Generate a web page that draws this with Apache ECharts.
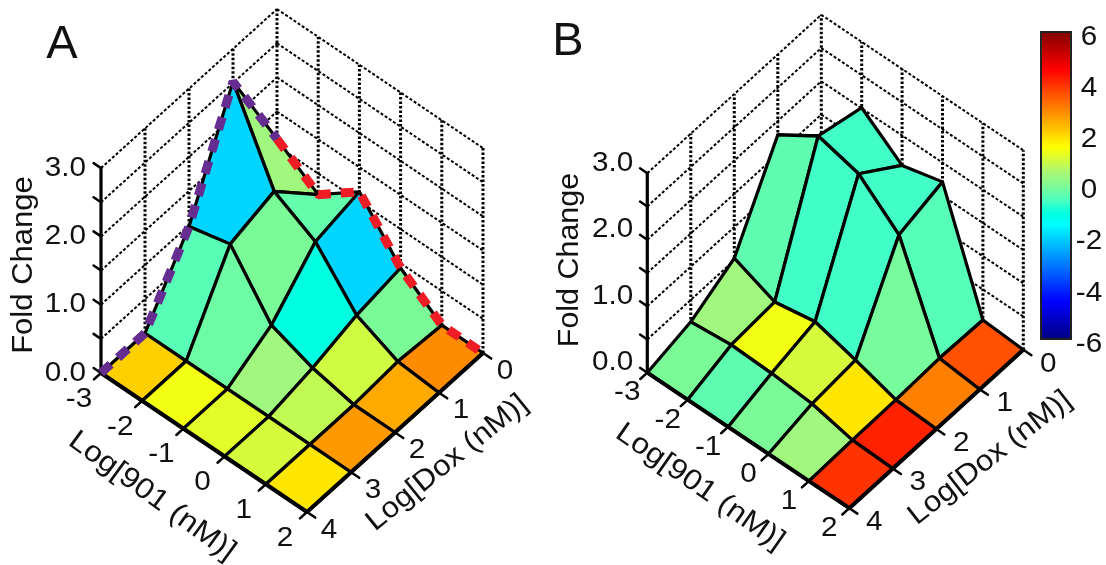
<!DOCTYPE html>
<html><head><meta charset="utf-8">
<style>html,body{margin:0;padding:0;background:#fff}#c{width:1106px;height:565px}</style>
<script src="https://cdn.jsdelivr.net/npm/echarts@6/dist/echarts.min.js"></script>
</head><body><div id="c"></div>
<script>
// ---- axis ticks ----
const drugTicks = [-3, -2, -1, 0, 1, 2];
const doxTicks = [0, 1, 2, 3, 4];
const foldTicks = [0, 0.5, 1, 1.5, 2, 2.5, 3];
const foldLabels = [0, 1, 2, 3];
const colorTicks = [-6, -4, -2, 0, 2, 4, 6];

// ---- fold change at the mesh nodes: one row per Dox tick, one column per 901 tick ----
const heightA = [
  [1.10, 0.69, 1.14, 0.43, 0.00, 0.00],
  [2.52, 1.32, 0.99, 0.32, 0.05, 0.00],
  [0.98, 1.13, 0.35, 0.13, 0.00, 0.00],
  [0.00, 0.00, 0.00, 0.00, 0.00, 0.00],
  [0.00, 0.00, 0.00, 0.00, 0.00, 0.00]
];
const heightB = [
  [1.18, 2.01, 1.55, 1.71, 0.04, 0.00],
  [1.79, 2.18, 2.02, 1.51, 0.06, 0.00],
  [0.53, 0.28, 0.39, 0.22, 0.03, 0.00],
  [0.17, 0.23, 0.21, 0.16, 0.02, 0.00],
  [0.00, 0.00, 0.00, 0.00, 0.00, 0.00]
];
// ---- colour value of each mesh cell: one row per Dox band, one column per 901 band ----
const cellA = [
  [0.40, -0.30, -2.00, -0.05, 2.85],
  [-2.00, -0.05, -1.10, 0.95, 2.50],
  [-0.42, -0.20, 0.40, 0.80, 2.70],
  [2.05, 1.35, 1.15, 1.00, 1.80]
];
const cellB = [
  [-0.65, -0.65, -0.65, -0.45, 3.55],
  [-0.35, -0.65, -0.65, -0.10, 3.00],
  [0.40, 1.35, 1.00, 1.80, 4.10],
  [-0.05, -0.35, -0.05, 0.40, 3.90]
];
// ---- colour scale ----
const scaleValues = [-6, -4.5, -1.5, -1.1, -0.6, 0, 0.5, 1.5, 4.5, 6];
const scaleColors = ['#00007f', '#0000ff', '#00ffff', '#00ffe0', '#48ffc4', '#80fa94', '#a8f878', '#ffff00', '#ff0000', '#7f0000'];

const FONT = '"Liberation Sans", Arial, sans-serif';
const hex = c => [1, 3, 5].map(k => parseInt(c.substr(k, 2), 16));
function colorOf(v) {
  for (let k = 0; k < scaleValues.length - 1; k++) {
    if (v <= scaleValues[k + 1]) {
      const t = (v - scaleValues[k]) / (scaleValues[k + 1] - scaleValues[k]);
      const a = hex(scaleColors[k]), b = hex(scaleColors[k + 1]);
      return 'rgb(' + a.map((x, n) => Math.round(x + (b[n] - x) * t)).join(',') + ')';
    }
  }
  return scaleColors[scaleColors.length - 1];
}

// panels: an axonometric view, drawn on a hidden value-axis grid
const panels = [
  { ox: 101, oy: 373, ix: 41.2, iy: 27.8, dx: 44, dy: 39.75, zs: 68.3, height: heightA, cell: cellA,
    zOff: [-15, 0], drugOff: [-22, 26], doxOff: [22, 18], paths: true },
  { ox: 647.3, oy: 372.7, ix: 40.4, iy: 27.1, dx: 43.5, dy: 39.6, zs: 66.5, height: heightB, cell: cellB,
    zOff: [-14, -10], drugOff: [-20, 20], doxOff: [25, 14], paths: false }
];
const series = [], grids = [], xAxes = [], yAxes = [];
const off = { type: 'value', show: false, scale: false };

panels.forEach((p, g) => {
  const project = (drug, dox, z) => [(drug + 3) * p.ix + (4 - dox) * p.dx, -(drug + 3) * p.iy + (4 - dox) * p.dy + z * p.zs];
  const xMax = 5 * p.ix + 4 * p.dx, yMin = -5 * p.iy, yMax = 4 * p.dy + 3 * p.zs;
  grids.push({ left: p.ox, top: p.oy - yMax, width: xMax, height: yMax - yMin, containLabel: false });
  xAxes.push(Object.assign({}, off, { gridIndex: g, min: 0, max: xMax }));
  yAxes.push(Object.assign({}, off, { gridIndex: g, min: yMin, max: yMax }));
  const common = { type: 'custom', xAxisIndex: g, yAxisIndex: g, silent: true, animation: false, clip: false };

  // dotted back walls
  const wall = [];
  foldTicks.filter(z => z > 0).forEach(z => {
    wall.push([...project(-3, 4, z), ...project(-3, 0, z), 2, 3, 2]);
    wall.push([...project(-3, 0, z), ...project(2, 0, z), 2, 3, 2]);
  });
  doxTicks.slice(0, 4).forEach(d => wall.push([...project(-3, d, 0), ...project(-3, d, 3), 3, 2.5, 2]));
  drugTicks.slice(1).forEach(d => wall.push([...project(d, 0, 0), ...project(d, 0, 3), 3, 2.5, 2]));
  series.push(Object.assign({}, common, { z: 1, data: wall, renderItem: (pr, api) => {
    const a = api.coord([api.value(0), api.value(1)]), b = api.coord([api.value(2), api.value(3)]);
    return { type: 'line', shape: { x1: a[0], y1: a[1], x2: b[0], y2: b[1] },
      style: { stroke: '#000', lineWidth: api.value(4), lineDash: [api.value(5), api.value(6)] } };
  } }));

  // surface, painted from the back corner to the front one
  const mesh = [];
  for (let r = 0; r < p.cell.length; r++) for (let c = 0; c < p.cell[r].length; c++) {
    const n = (rr, cc) => project(drugTicks[cc], doxTicks[rr], p.height[rr][cc]);
    mesh.push([...n(r, c), ...n(r, c + 1), ...n(r + 1, c + 1), ...n(r + 1, c), p.cell[r][c]]);
  }
  series.push(Object.assign({}, common, { z: 2, data: mesh, renderItem: (pr, api) => {
    const pts = [0, 2, 4, 6].map(k => api.coord([api.value(k), api.value(k + 1)]));
    return { type: 'polygon', shape: { points: pts },
      style: { fill: colorOf(api.value(8)), stroke: '#000', lineWidth: 3.2, lineJoin: 'round' } };
  } }));

  // solid axes and their ticks
  const axisSegs = [];
  axisSegs.push([...project(-3, 4, 0), ...project(2, 4, 0), 4]);
  axisSegs.push([...project(2, 4, 0), ...project(2, 0, 0), 4]);
  axisSegs.push([...project(-3, 4, 0), ...project(-3, 4, 3), 3.2]);
  drugTicks.forEach(d => axisSegs.push([...project(d, 4, 0), ...project(d, 4.16, 0), 2.5]));
  doxTicks.forEach(d => axisSegs.push([...project(2, d, 0), ...project(2.2, d, 0), 2.5]));
  foldTicks.forEach(z => axisSegs.push([...project(-3, 4, z), ...project(-3.18, 4, z), 2.5]));
  series.push(Object.assign({}, common, { z: 3, data: axisSegs, renderItem: (pr, api) => {
    const a = api.coord([api.value(0), api.value(1)]), b = api.coord([api.value(2), api.value(3)]);
    return { type: 'line', shape: { x1: a[0], y1: a[1], x2: b[0], y2: b[1] },
      style: { stroke: '#000', lineWidth: api.value(4), lineCap: 'round' } };
  } }));

  // tick labels
  const labelItems = [];
  foldLabels.forEach(z => labelItems.push({ value: project(-3, 4, z), text: z.toFixed(1), off: p.zOff, align: 'right' }));
  drugTicks.forEach(d => labelItems.push({ value: project(d, 4, 0), text: String(d), off: p.drugOff, align: 'center' }));
  doxTicks.forEach(d => labelItems.push({ value: project(2, d, 0), text: String(d), off: p.doxOff, align: 'center' }));
  series.push(Object.assign({}, common, { z: 4, data: labelItems, renderItem: (pr, api) => {
    const it = labelItems[pr.dataIndex];
    const a = api.coord([api.value(0), api.value(1)]);
    return { type: 'text', x: a[0] + it.off[0], y: a[1] + it.off[1], scaleX: 1.06,
      style: { text: it.text, fontSize: 28, fontFamily: FONT, fill: '#111', align: it.align, verticalAlign: 'middle',
        textAlign: it.align, textVerticalAlign: 'middle' } };
  } }));

  // dashed profiles along the two back edges
  if (p.paths) {
    const line = (data, color, z) => ({ type: 'line', xAxisIndex: g, yAxisIndex: g, data, showSymbol: false, symbol: 'none',
      silent: true, animation: false, clip: false, z, lineStyle: { color, width: 9, type: [13, 10] } });
    series.push(line(drugTicks.map((d, c) => project(d, 0, p.height[0][c])), '#ee1c25', 5));
    series.push(line(doxTicks.map((d, r) => project(-3, d, p.height[r][0])).reverse(), '#662d91', 6));
  }
});

// colour bar on its own axis
grids.push({ left: 1041, top: 32, width: 30, height: 307 });
xAxes.push({ type: 'value', gridIndex: 2, min: 0, max: 1, show: false });
const barTick = { show: true, inside: true, length: 4, lineStyle: { color: '#000', width: 2 } };
yAxes.push({ type: 'value', gridIndex: 2, min: -6, max: 6, interval: 2, position: 'left', splitLine: { show: false },
  axisLine: { show: false }, axisTick: barTick, axisLabel: { show: false } });
yAxes.push({ type: 'value', gridIndex: 2, min: -6, max: 6, interval: 2, position: 'right', splitLine: { show: false },
  axisLine: { show: false }, axisTick: barTick, axisLabel: { show: false } });
series.push({ type: 'custom', xAxisIndex: 2, yAxisIndex: 2, silent: true, animation: false, z: 1,
  data: [[0, colorTicks[0], 1, colorTicks[colorTicks.length - 1]]], renderItem: (pr, api) => {
    const a = api.coord([api.value(0), api.value(1)]), b = api.coord([api.value(2), api.value(3)]);
    const stops = scaleValues.map((v, k) => ({ offset: (v + 6) / 12, color: scaleColors[k] }));
    return { type: 'rect', shape: { x: a[0], y: b[1], width: b[0] - a[0], height: a[1] - b[1] },
      style: { stroke: '#222', lineWidth: 2,
        fill: new echarts.graphic.LinearGradient(0, 1, 0, 0, stops) } };
  } });
series.push({ type: 'custom', xAxisIndex: 2, yAxisIndex: 2, silent: true, animation: false, clip: false, z: 4,
  data: colorTicks.map(t => [1, t]), renderItem: (pr, api) => {
    const a = api.coord([api.value(0), api.value(1)]);
    return { type: 'text', x: a[0] + 18, y: a[1] + 5, scaleX: 1.06,
      style: { text: String(api.value(1)), fontSize: 28, fontFamily: FONT, fill: '#111', align: 'center', verticalAlign: 'middle',
        textAlign: 'center', textVerticalAlign: 'middle' } };
  } });

// panel letters and axis titles
const textEl = (text, x, y, fontSize, rotation, scaleX) => ({ type: 'text', x, y, rotation: rotation * Math.PI / 180, scaleX, silent: true, z: 10,
  style: { text, fontSize, fontFamily: FONT, fill: '#111', align: 'center', verticalAlign: 'middle', textAlign: 'center', textVerticalAlign: 'middle' } });
const graphicEls = [
  textEl('A', 62, 45, 47, 0, 1), textEl('B', 568, 42, 47, 0, 1),
  textEl('Fold Change', 24, 265, 29, 90, 1.07), textEl('Fold Change', 570, 260, 29, 90, 1.05),
  textEl('Log[901 (nM)]', 152, 496, 29, -36, 1.1), textEl('Log[901 (nM)]', 700, 487, 29, -35, 1.1),
  textEl('Log[Dox (nM)]', 447, 463, 29, 39, 1.08), textEl('Log[Dox (nM)]', 990, 458, 29, 38, 1.08)
];

const chart = echarts.init(document.getElementById('c'), null, { renderer: 'canvas' });
chart.setOption({ backgroundColor: '#fff', animation: false, tooltip: { show: false },
  grid: grids, xAxis: xAxes, yAxis: yAxes, series, graphic: graphicEls });
</script></body></html>
